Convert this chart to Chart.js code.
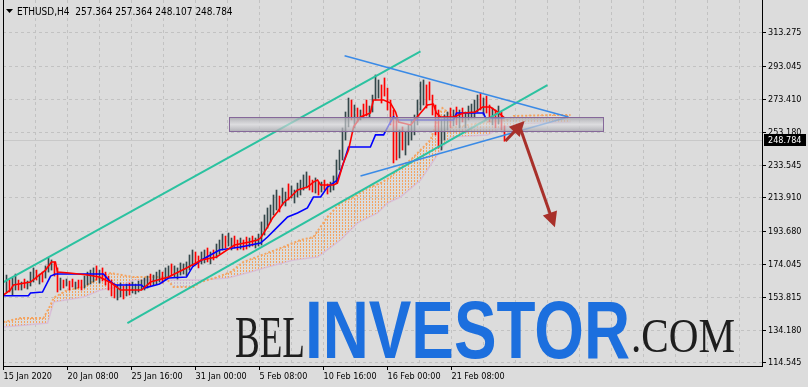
<!DOCTYPE html>
<html>
<head>
<meta charset="utf-8">
<script src="https://cdn.jsdelivr.net/npm/chart.js@4.4.0/dist/chart.umd.min.js"></script>
<style>
  html, body { margin: 0; padding: 0; background: #dcdcdc; }
  #wrap { width: 808px; height: 387px; }
</style>
</head>
<body>
<div id="wrap"><canvas id="chart" width="808" height="387"></canvas></div>
<script>
// ---- chart data ----
const SYMBOL_TITLE = 'ETHUSD,H4  257.364 257.364 248.107 248.784';
const LAST_PRICE = 248.784;
const PRICE_TICKS = [313.275, 293.045, 273.410, 253.180, 233.545, 213.910, 193.680, 174.045, 153.815, 134.180, 114.545];
const TIME_LABELS = ['15 Jan 2020', '20 Jan 08:00', '25 Jan 16:00', '31 Jan 00:00', '5 Feb 08:00', '10 Feb 16:00', '16 Feb 00:00', '21 Feb 08:00'];

// H4 bars, index 1..167
const barHigh = [
  167.5,164.5,165.7,168.1,164.5,163.3,165.1,163.9,169.3,171.8,
  170.5,168.1,169.3,173.0,177.8,176.6,175.4,171.8,165.7,164.5,
  165.1,163.9,165.1,163.3,164.5,164.5,166.9,169.3,170.5,171.8,
  173.0,170.5,171.8,169.3,166.9,164.5,162.1,161.5,162.7,160.9,
  162.1,162.7,163.3,162.1,163.9,164.5,165.7,166.9,168.1,167.5,
  169.3,170.5,169.3,171.8,173.0,174.2,173.0,171.8,174.8,174.2,
  175.4,179.6,182.6,181.4,179.0,181.4,182.6,183.8,181.4,182.6,
  186.2,188.6,192.2,191.0,192.8,189.8,191.0,188.6,189.8,188.6,
  190.4,189.8,191.0,189.8,192.2,199.5,203.7,207.9,209.7,215.7,
  218.7,215.1,219.9,217.5,222.4,221.2,218.7,222.9,224.7,227.8,
  229.6,227.2,224.7,226.0,223.5,223.5,224.7,222.4,223.5,227.2,
  236.8,242.8,256.1,265.7,274.1,272.9,269.9,268.1,266.9,270.5,
  272.9,269.3,275.9,288.0,285.0,282.0,286.2,280.1,272.9,266.9,
  260.9,254.9,256.7,253.7,257.9,260.9,263.9,272.9,283.8,285.0,
  282.0,283.8,275.9,269.9,266.9,260.9,263.9,265.7,268.1,266.9,
  268.7,266.9,268.1,265.7,269.3,270.5,272.9,275.9,277.1,274.1,
  275.3,269.9,268.1,266.9,269.3,265.7,257.4
];
const barLow = [
  157.3,157.3,155.5,158.5,158.5,158.5,159.7,159.1,160.9,163.3,
  164.5,162.1,163.3,165.7,169.3,170.5,166.9,157.3,158.5,159.7,
  160.9,158.5,160.3,159.1,159.7,158.5,159.7,161.5,162.1,163.3,
  164.5,162.7,163.9,161.5,158.5,154.9,153.7,152.5,154.3,153.1,
  154.9,155.5,156.7,156.1,157.3,158.5,158.5,159.7,160.9,161.5,
  162.1,163.3,162.7,164.5,165.7,166.9,166.3,165.1,167.5,168.1,
  166.9,170.5,173.0,173.6,171.8,174.2,174.8,175.4,174.2,176.6,
  177.8,180.2,182.6,183.8,185.0,182.6,183.8,182.6,183.2,182.6,
  183.2,184.4,185.0,183.8,185.0,185.6,191.6,195.8,199.5,203.7,
  206.7,205.5,209.7,209.1,212.7,213.9,210.9,214.5,215.7,218.7,
  219.9,218.7,217.5,216.9,215.7,217.5,218.7,216.3,217.5,218.7,
  222.9,230.8,236.8,248.8,256.7,260.9,256.1,259.7,260.9,262.1,
  263.3,262.7,265.7,272.9,274.1,271.1,275.3,266.9,257.9,235.0,
  236.8,238.0,242.8,239.8,245.8,248.8,251.9,257.9,266.9,269.9,
  268.1,272.9,263.9,251.9,244.0,242.8,248.8,254.9,256.1,257.3,
  257.9,256.1,259.7,256.1,260.9,262.1,262.1,265.7,266.9,263.9,
  265.1,259.7,257.9,256.1,258.5,254.9,248.1
];
// u = bull bar, d = bear bar
const barDirection =
  'uduududuuu' + 'duduuuddud' + 'uddudduuuu' + 'duddddduud' +
  'uduuuuuudu' + 'uuduuduuuu' + 'uuudduudud' + 'uuuduuddud' +
  'duduuuuuuu' + 'uduuduuuuu' + 'uddududduu' + 'uuuuududud' +
  'duuuuddddd' + 'duduuuuuuu' + 'ddddduuudu' + 'duduuuuudu' + 'ddududd';

// Ichimoku lines: [bar index, price]
const tenkanSen = [
  [0,155.5],[2.3,158.5],[3.3,161.5],[9,163.3],[14,170.5],[16,175.4],[17.3,175.4],[18,169.3],
  [22,168.7],[28,167.5],[32,166.3],[36,162.7],[39,158.5],[46,158.5],[49,163.3],[55,166.3],
  [61,171.8],[66,176.6],[71,178.4],[77,185.6],[82,187.4],[84.7,188.6],[85.7,189.8],[88,196.4],
  [89.7,201.9],[91.3,205.5],[93.3,210.9],[95.7,214.5],[98,218.7],[101.3,220.5],[103.3,223.5],
  [104.7,224.7],[105.7,221.7],[110,221.7],[111.3,222.9],[113.3,235.0],[115,242.8],[116.7,256.7],
  [119,262.7],[122.3,265.1],[123.3,272.9],[126.7,272.9],[129,271.1],[130.7,265.7],[131.7,259.7],
  [135.7,257.9],[139,265.1],[141.3,269.9],[143.3,270.5],[144.3,265.1],[145.7,262.7],[150,262.7],
  [153.3,265.1],[157.3,265.7],[159.7,268.7],[162.3,268.7],[164.7,265.7],[167,262.1]
];
const kijunSen = [
  [0,155.0],[8.3,155.0],[9,156.7],[13,157.3],[15.7,166.9],[17.3,168.1],[33.3,168.1],[35.7,163.3],
  [37.3,161.5],[46,161.5],[47,159.7],[52,162.1],[55,165.7],[61,166.3],[63,172.4],[66,176.6],
  [72,182.6],[79,184.4],[85.7,186.8],[88,190.4],[91.3,196.4],[94.7,202.5],[98,204.9],[101.3,207.9],
  [103.3,214.5],[105.7,214.5],[108,220.5],[111.3,224.7],[113.3,235.0],[114.7,242.8],[115,244.6],
  [122.3,244.6],[124,251.9],[126.7,251.9],[129,259.7],[130,262.7],[131.3,260.9],[150,260.9],
  [151,265.1],[160,265.1],[160.7,262.1],[167,262.1]
];
const senkouA = [
  [0,139.2],[5.7,141.6],[13.3,141.6],[15.7,149.5],[16.7,153.7],[21.3,158.5],[26.7,160.3],[32.3,166.3],
  [35.7,168.7],[43.3,166.3],[52.3,166.3],[54.7,164.5],[56.7,160.3],[63.3,160.3],[65.7,163.3],
  [71.3,166.3],[75.7,169.3],[80,175.4],[88,180.8],[93.3,184.4],[99,188.6],[103.3,190.4],[108,202.5],
  [112.3,210.9],[116.7,214.5],[121.3,219.9],[125.7,222.9],[129,226.6],[132.3,232.6],[135.7,236.8],
  [139,242.8],[142.3,248.8],[144.7,260.9],[146.3,268.1],[148,265.7],[149,256.1],[154.7,257.9],
  [161.3,259.7],[168,260.9],[170,263.3],[183.3,263.9],[189,263.9]
];
const senkouB = [
  [0,136.2],[14.7,138.6],[16.7,151.3],[26.7,154.3],[32.3,158.5],[38,160.3],[43.3,164.5],[65.7,164.5],
  [74.7,165.7],[82.3,169.3],[88,172.4],[96.7,176.6],[104.7,178.4],[112.3,188.6],[118,198.9],
  [124.7,204.9],[128,210.9],[132.3,214.5],[139,224.7],[145.7,242.8],[149,250.6],[161.3,251.9],
  [165.7,256.1],[172.3,258.5],[189,259.7]
];

// drawn objects: [bar index, price]
const channelUpper = [[0,163.3],[139,302.2]];
const channelLower = [[41.3,138.6],[181.3,281.9]];
const triangleUpper = [[113.7,299.6],[188.3,262.7]];
const triangleLower = [[119,227.2],[188.3,262.7]];
const zoneBars = [75, 200];
const zonePrices = [254.1, 262.7];
const arrowPaths = [
  [[167.3,248.2],[173.7,260.3]],
  [[172,257.3],[183.8,196.3]]
];

// ---- styling ----
const BG = '#dcdcdc';
const GRID = '#c2c2c2';
const FONT = "'DejaVu Sans Condensed', 'Liberation Sans', sans-serif";
const BAR_UP = '#34474a';
const BAR_DOWN = '#ff0000';
const TEAL = '#2bc2a0';
const TRI_BLUE = '#3a8ae6';
const ARROW = '#a8302a';

function hatch(color) {
  const c = document.createElement('canvas');
  c.width = 3; c.height = 3;
  const g = c.getContext('2d');
  g.fillStyle = color;
  g.fillRect(0, 0, 1, 2);
  return g.createPattern(c, 'repeat');
}

const pts = arr => arr.map(([x, y]) => ({ x, y }));
const lineSet = (label, arr, color, width, order, extra) => Object.assign({
  label, data: pts(arr), borderColor: color, borderWidth: width,
  pointRadius: 0, fill: false, tension: 0, order
}, extra || {});

const backgroundPlugin = {
  id: 'background',
  beforeDraw(chart) {
    const { ctx, width, height } = chart;
    ctx.save();
    ctx.fillStyle = BG;
    ctx.fillRect(0, 0, width, height);
    ctx.restore();
  }
};

function fitText(ctx, text, font, x, baseline, targetWidth, color) {
  ctx.save();
  ctx.font = font;
  const w = ctx.measureText(text).width;
  ctx.translate(x, baseline);
  ctx.scale(targetWidth / w, 1);
  ctx.fillStyle = color;
  ctx.textBaseline = 'alphabetic';
  ctx.fillText(text, 0, 0);
  ctx.restore();
}

const underlayPlugin = {
  id: 'underlay',
  beforeDatasetsDraw(chart) {
    const { ctx, chartArea, scales } = chart;
    // watermark
    fitText(ctx, 'BEL', "60px 'Liberation Serif', serif", 235, 357, 70, '#1e1e1e');
    fitText(ctx, 'INVESTOR', "bold 82px 'Liberation Sans', sans-serif", 305, 358, 325, '#1c6fde');
    fitText(ctx, '.COM', "48px 'Liberation Serif', serif", 631, 352, 104, '#1e1e1e');
    // last price line
    const y = Math.round(scales.y.getPixelForValue(LAST_PRICE)) + 0.5;
    ctx.save();
    ctx.strokeStyle = '#c8c8c8';
    ctx.lineWidth = 1;
    ctx.beginPath();
    ctx.moveTo(chartArea.left, y);
    ctx.lineTo(chartArea.right, y);
    ctx.stroke();
    ctx.restore();
  }
};

const overlayPlugin = {
  id: 'overlay',
  afterDatasetsDraw(chart) {
    const { ctx, scales, chartArea } = chart;
    const px = v => scales.x.getPixelForValue(v);
    const py = v => scales.y.getPixelForValue(v);
    ctx.save();
    ctx.beginPath();
    ctx.rect(chartArea.left, chartArea.top, chartArea.right - chartArea.left, chartArea.bottom - chartArea.top);
    ctx.clip();

    // zone rectangle
    const x1 = Math.round(px(zoneBars[0])) + 0.5, x2 = Math.round(px(zoneBars[1])) + 0.5;
    const y1 = Math.round(py(zonePrices[1])) + 0.5, y2 = Math.round(py(zonePrices[0])) + 0.5;
    const grad = ctx.createLinearGradient(0, y1, 0, y2);
    grad.addColorStop(0, 'rgba(165,165,172,0.8)');
    grad.addColorStop(0.5, 'rgba(220,220,224,0.62)');
    grad.addColorStop(1, 'rgba(165,165,172,0.8)');
    ctx.fillStyle = grad;
    ctx.fillRect(x1, y1, x2 - x1, y2 - y1);
    ctx.strokeStyle = '#86689a';
    ctx.lineWidth = 1;
    ctx.strokeRect(x1, y1, x2 - x1, y2 - y1);

    // arrows
    arrowPaths.forEach(([a, b]) => {
      const ax = px(a[0]), ay = py(a[1]), bx = px(b[0]), by = py(b[1]);
      const ang = Math.atan2(by - ay, bx - ax);
      const head = 15, half = 7.5;
      const sx = bx - Math.cos(ang) * head * 0.8, sy = by - Math.sin(ang) * head * 0.8;
      ctx.strokeStyle = ARROW;
      ctx.fillStyle = ARROW;
      ctx.lineWidth = 3;
      ctx.lineCap = 'butt';
      ctx.beginPath();
      ctx.moveTo(ax, ay);
      ctx.lineTo(sx, sy);
      ctx.stroke();
      const hx = bx - Math.cos(ang) * head, hy = by - Math.sin(ang) * head;
      ctx.beginPath();
      ctx.moveTo(bx, by);
      ctx.lineTo(hx + Math.sin(ang) * half, hy - Math.cos(ang) * half);
      ctx.lineTo(hx - Math.sin(ang) * half, hy + Math.cos(ang) * half);
      ctx.closePath();
      ctx.fill();
    });
    ctx.restore();
  },
  afterDraw(chart) {
    const { ctx, chartArea, scales } = chart;
    ctx.save();
    // left frame line
    ctx.strokeStyle = '#000';
    ctx.lineWidth = 1;
    ctx.beginPath();
    ctx.moveTo(chartArea.left + 0.5, chartArea.top);
    ctx.lineTo(chartArea.left + 0.5, chartArea.bottom);
    ctx.stroke();

    // title
    ctx.fillStyle = '#000';
    ctx.beginPath();
    ctx.moveTo(6, 9); ctx.lineTo(13, 9); ctx.lineTo(9.5, 13);
    ctx.closePath();
    ctx.fill();
    ctx.font = '10px ' + FONT;
    ctx.textBaseline = 'alphabetic';
    ctx.textAlign = 'left';
    ctx.fillText(SYMBOL_TITLE, 17, 15);

    // last price tag
    const y = Math.round(scales.y.getPixelForValue(LAST_PRICE));
    ctx.font = '9px ' + FONT;
    ctx.fillStyle = '#000';
    ctx.fillRect(chartArea.right + 2, y - 6, 42, 12);
    ctx.fillStyle = '#fff';
    ctx.textBaseline = 'middle';
    ctx.fillText(LAST_PRICE.toFixed(3), chartArea.right + 6, y + 0.5);
    ctx.restore();
  }
};

const barData = barHigh.map((h, i) => ({ x: i + 1, y: [barLow[i], h] }));
const barColors = barHigh.map((h, i) => barDirection[i] === 'u' ? BAR_UP : BAR_DOWN);

new Chart(document.getElementById('chart'), {
  type: 'line',
  data: {
    datasets: [
      lineSet('Senkou Span B', senkouB, '#d8bfd8', 1.5, 20),
      lineSet('Senkou Span A', senkouA, '#f4a460', 2, 19, {
        borderDash: [2, 2],
        fill: { target: 0, above: hatch('#f4a460'), below: hatch('#cdb4cd') }
      }),
      {
        type: 'bar', label: 'ETHUSD', data: barData,
        backgroundColor: barColors, barThickness: 1, grouped: false,
        borderWidth: 0, order: 10
      },
      lineSet('Kijun-sen', kijunSen, '#0000ff', 1.6, 8),
      lineSet('Tenkan-sen', tenkanSen, '#ff0000', 1.6, 7),
      lineSet('Channel upper', channelUpper, TEAL, 2, 5),
      lineSet('Channel lower', channelLower, TEAL, 2, 5),
      lineSet('Triangle upper', triangleUpper, TRI_BLUE, 1.6, 4),
      lineSet('Triangle lower', triangleLower, TRI_BLUE, 1.6, 4)
    ]
  },
  options: {
    responsive: false,
    animation: false,
    devicePixelRatio: 1,
    layout: { padding: { left: 3, top: 0, right: 0, bottom: 0 } },
    plugins: { legend: { display: false }, tooltip: { enabled: false } },
    scales: {
      x: {
        type: 'linear',
        min: -1 / 6,
        max: 253 - 1 / 6,
        offset: false,
        afterBuildTicks: s => {
          s.ticks = Array.from({ length: 24 }, (_, k) => ({ value: k * 32 / 3 }));
        },
        afterFit: s => { s.height = 21; s.paddingLeft = 0; s.paddingRight = 0; },
        grid: {
          color: GRID,
          offset: false,
          tickLength: 4,
          tickColor: c => (c.index % 2 === 0 && c.index / 2 < TIME_LABELS.length) ? '#000' : 'rgba(0,0,0,0)',
          tickBorderDash: []
        },
        border: { display: true, color: '#000', width: 1, dash: [3, 3] },
        ticks: {
          autoSkip: false, maxRotation: 0, align: 'start', padding: 1,
          color: '#000', font: { family: FONT, size: 9 },
          callback: (v, i) => (i % 2 === 0 && TIME_LABELS[i / 2]) ? TIME_LABELS[i / 2] : ''
        }
      },
      y: {
        type: 'linear',
        position: 'right',
        min: 112.738,
        max: 333.148,
        afterBuildTicks: s => { s.ticks = PRICE_TICKS.map(v => ({ value: v })); },
        afterFit: s => { s.width = 46; s.paddingTop = 0; s.paddingBottom = 0; },
        grid: { color: GRID, tickLength: 4, tickColor: '#000', tickBorderDash: [] },
        border: { display: true, color: '#000', width: 1, dash: [3, 3] },
        ticks: {
          padding: 2, color: '#000', font: { family: FONT, size: 9 },
          callback: v => v.toFixed(3)
        }
      }
    }
  },
  plugins: [backgroundPlugin, underlayPlugin, overlayPlugin]
});
</script>
</body>
</html>
